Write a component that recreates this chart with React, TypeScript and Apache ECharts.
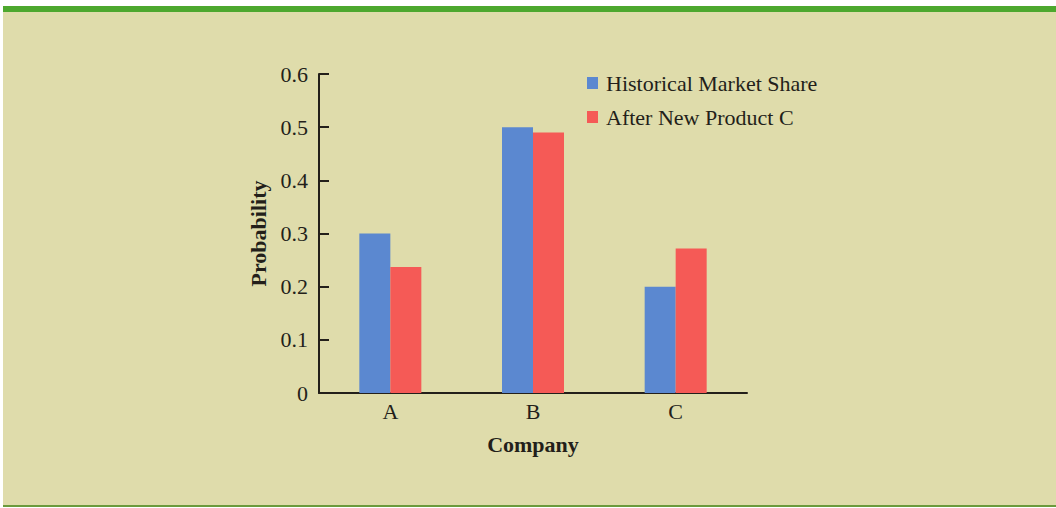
import React, { useEffect, useRef } from "react";
import * as echarts from "echarts";

const categories = ["A", "B", "C"];
const historical = [0.3, 0.5, 0.2];
const afterNewProduct = [0.237, 0.49, 0.272];
const seriesNames = ["Historical Market Share", "After New Product C"];

const FONT = "'Liberation Serif', 'Times New Roman', serif";
const INK = "#231f1a";

export default function App() {
  const ref = useRef<HTMLDivElement>(null);
  useEffect(() => {
    document.body.style.margin = "0";
    const chart = echarts.init(ref.current!, null, { renderer: "svg" });
    chart.setOption({
      animation: false,
      backgroundColor: "#ffffff",
      graphic: [
        { type: "rect", z: -10, shape: { x: 3, y: 12, width: 1053, height: 494 }, style: { fill: "#dfdcab" }, silent: true },
        { type: "rect", z: -10, shape: { x: 3, y: 6, width: 1053, height: 6 }, style: { fill: "#4da82e" }, silent: true },
        { type: "rect", z: -10, shape: { x: 3, y: 505, width: 1053, height: 2 }, style: { fill: "#6b9a3c" }, silent: true },
      ],
      grid: { left: 319, right: 309, top: 74, bottom: 115, containLabel: false },
      legend: {
        orient: "vertical",
        left: 587,
        top: 72,
        padding: 0,
        itemWidth: 11,
        itemHeight: 12,
        itemGap: 12,
        icon: "rect",
        data: seriesNames,
        textStyle: { fontFamily: FONT, fontSize: 22, color: INK, padding: [0, 0, 0, 3] },
      },
      xAxis: {
        type: "category",
        data: categories,
        name: "Company",
        nameLocation: "middle",
        nameGap: 40,
        nameTextStyle: { fontFamily: FONT, fontSize: 22, fontWeight: "bold", color: INK },
        axisLine: { lineStyle: { color: INK, width: 2 } },
        axisTick: { show: false },
        axisLabel: { fontFamily: FONT, fontSize: 22, color: INK, margin: 7 },
      },
      yAxis: {
        type: "value",
        min: 0,
        max: 0.6,
        interval: 0.1,
        name: "Probability",
        nameLocation: "middle",
        nameRotate: 90,
        nameGap: 50,
        nameTextStyle: { fontFamily: FONT, fontSize: 22, fontWeight: "bold", color: INK },
        axisLine: { show: true, lineStyle: { color: INK, width: 2 } },
        axisTick: { show: true, inside: true, length: 10, lineStyle: { color: INK, width: 2 } },
        axisLabel: { fontFamily: FONT, fontSize: 22, color: INK, margin: 11 },
        splitLine: { show: false },
      },
      series: [
        { name: seriesNames[0], type: "bar", data: historical, barWidth: 31, barGap: "0%", itemStyle: { color: "#5b88d0" } },
        { name: seriesNames[1], type: "bar", data: afterNewProduct, barWidth: 31, barGap: "0%", itemStyle: { color: "#f55a56" } },
      ],
    });
    return () => chart.dispose();
  }, []);
  return <div ref={ref} style={{ width: 1056, height: 508 }} />;
}
